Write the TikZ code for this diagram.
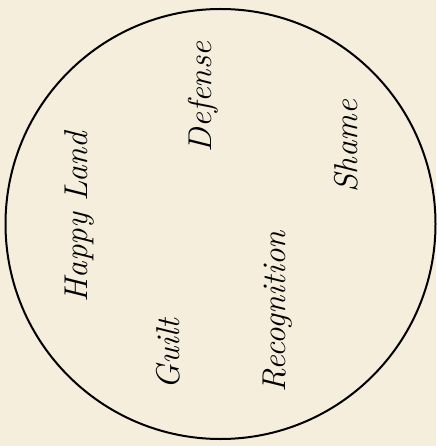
\documentclass[tikz,border=0pt]{standalone}
\definecolor{bgc}{HTML}{F5EEDD}
\begin{document}
\begin{tikzpicture}[x=1pt,y=-1pt,
  lbl/.style={rotate=90, inner sep=0pt, font=\fontsize{33}{36}\selectfont\itshape, text=black}]
\fill[bgc] (0,0) rectangle (436,446);
\useasboundingbox (0,0) rectangle (436,446);
\node[draw, circle, line width=2pt, minimum size=430pt, inner sep=0pt] (c) at (220.5,224) {};
\node[lbl] (happy) at (79,217) {Happy Land};
\node[lbl] (def) at (203,97) {Defense};
\node[lbl] (shame) at (346,146) {Shame};
\node[lbl] (rec) at (278,312) {Recognition};
\node[lbl] (guilt) at (168,354) {Guilt};
\end{tikzpicture}
\end{document}
